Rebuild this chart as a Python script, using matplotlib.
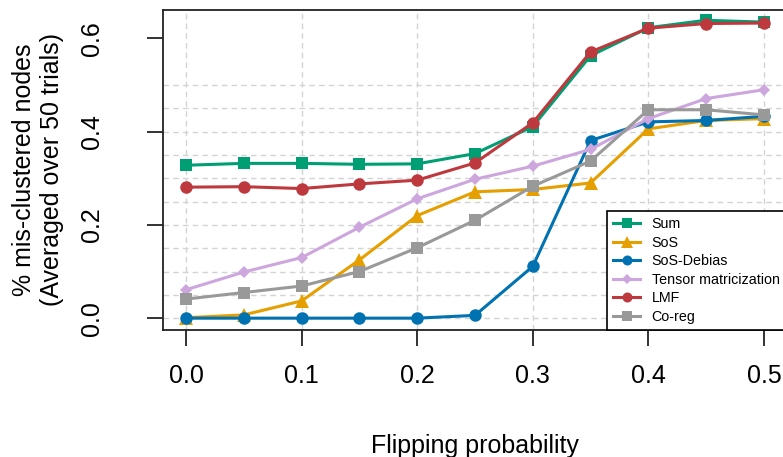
import numpy as np
import matplotlib
matplotlib.use("Agg")
import matplotlib.pyplot as plt

plt.rcParams['font.family'] = ['Liberation Sans', 'DejaVu Sans']

flip_prob = [0.0, 0.05, 0.1, 0.15, 0.2, 0.25, 0.3, 0.35, 0.4, 0.45, 0.5]
sum_vals = [0.328, 0.332, 0.332, 0.330, 0.331, 0.353, 0.411, 0.563, 0.623, 0.639, 0.635]
sos_vals = [0.001, 0.007, 0.037, 0.125, 0.220, 0.271, 0.276, 0.290, 0.406, 0.424, 0.428]
sos_debias_vals = [0.0, 0.0, 0.0, 0.0, 0.0, 0.006, 0.111, 0.381, 0.421, 0.424, 0.433]
tensor_vals = [0.061, 0.099, 0.130, 0.195, 0.256, 0.298, 0.326, 0.362, 0.428, 0.471, 0.490]
lmf_vals = [0.281, 0.282, 0.278, 0.288, 0.296, 0.333, 0.419, 0.571, 0.622, 0.632, 0.633]
coreg_vals = [0.041, 0.055, 0.069, 0.100, 0.151, 0.210, 0.283, 0.337, 0.447, 0.447, 0.436]

labels = ["Sum", "SoS", "SoS-Debias", "Tensor matricization", "LMF", "Co-reg"]
x_ticks = [0.0, 0.1, 0.2, 0.3, 0.4, 0.5]
x_ticklabels = ["0.0", "0.1", "0.2", "0.3", "0.4", "0.5"]
y_ticks = [0.0, 0.2, 0.4, 0.6]
y_ticklabels = ["0.0", "0.2", "0.4", "0.6"]

series = [sum_vals, sos_vals, sos_debias_vals, tensor_vals, lmf_vals, coreg_vals]
colors = ["#009E73", "#E69F00", "#0072B2", "#CCA6DD", "#BE393D", "#999999"]
markers = ["s", "^", "o", "D", "o", "s"]
msizes = [9, 10, 9, 6.5, 9, 9]

W, H = 783, 457
fig = plt.figure(figsize=(W / 100, H / 100), dpi=100)
ax = fig.add_axes([163 / W, (H - 330) / H, (787 - 163) / W, (330 - 10) / H])

for v in np.arange(0, 0.501, 0.05):
    ax.axhline(v, color="#D3D3D3", lw=1, ls=(0, (4, 3)), zorder=0)
for v in x_ticks:
    ax.axvline(v, color="#D3D3D3", lw=1, ls=(0, (4, 3)), zorder=0)

for vals, lab, c, m, ms in zip(series, labels, colors, markers, msizes):
    ax.plot(flip_prob, vals, color=c, marker=m, markersize=ms, lw=2.2,
            label=lab, markeredgewidth=0)

ax.set_xlim(-0.02, 0.52)
ax.set_ylim(-0.0254, 0.661)
ax.set_xticks(x_ticks)
ax.set_xticklabels(x_ticklabels)
ax.set_yticks(y_ticks)
ax.set_yticklabels(y_ticklabels, rotation=90, va="center")
ax.tick_params(axis="both", direction="out", length=11.5, width=1.3,
               labelsize=18, color="#222222")
ax.tick_params(axis="x", pad=13)
ax.tick_params(axis="y", pad=31)
for s in ax.spines.values():
    s.set_linewidth(1.3)
    s.set_color("#222222")

leg = ax.legend(loc="lower left", bbox_to_anchor=(607 / W, (H - 330) / H),
                bbox_transform=fig.transFigure, fontsize=10.3, frameon=True,
                fancybox=False, edgecolor="black", borderpad=0.42,
                labelspacing=0.32, handlelength=1.9, handletextpad=0.8,
                borderaxespad=0, markerscale=0.8)
leg.get_frame().set_linewidth(1.2)
leg.get_frame().set_alpha(1)

fig.text(475 / W, (H - 453) / H, "Flipping probability", fontsize=18,
         ha="center", va="baseline")
fig.text(38 / W, (H - 170) / H,
         "% mis-clustered nodes\n(Averaged over 50 trials)", fontsize=18,
         rotation=90, ha="center", va="center", multialignment="center",
         linespacing=1.25)

fig.savefig("out.png", dpi=100)
